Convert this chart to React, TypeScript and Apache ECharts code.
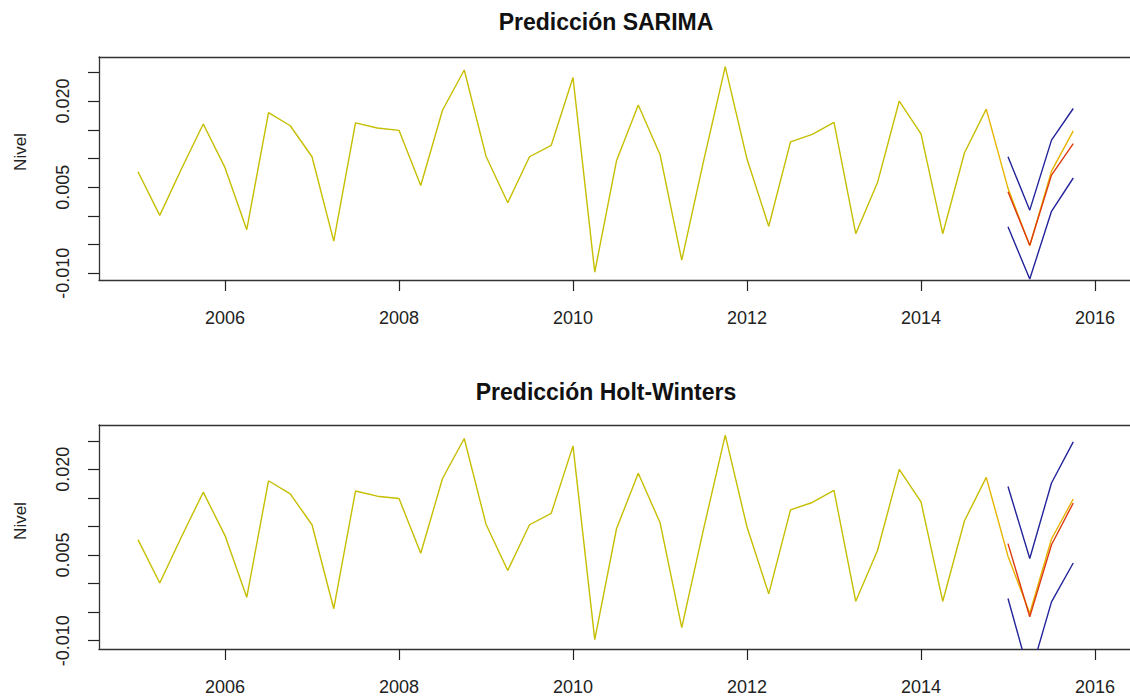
import React, { useEffect, useRef } from "react";
import * as echarts from "echarts";

// Quarterly series, 2005 Q1 .. 2014 Q4 (training data)
const START_YEAR = 2005;
const observed = [
  0.0077, 0.0001, 0.0082, 0.016, 0.0084, -0.0024, 0.018, 0.0157, 0.0103, -0.0044,
  0.0162, 0.0153, 0.0149, 0.0053, 0.0184, 0.0254, 0.0104, 0.0023, 0.0103, 0.0123,
  0.0241, -0.0098, 0.0096, 0.0193, 0.0107, -0.0077, 0.0095, 0.026, 0.0099, -0.0018,
  0.0129, 0.0142, 0.0163, -0.0031, 0.0058, 0.02, 0.0143, -0.0031, 0.011, 0.0186,
];
// 2015 Q1 .. Q4 (test data)
const testValues = [0.0048, -0.0052, 0.0078, 0.0148];

// SARIMA forecast
const sarimaMean = [0.0042, -0.0051, 0.0071, 0.0126];
const sarimaUpper = [0.0103, 0.001, 0.0132, 0.0187];
const sarimaLower = [-0.0019, -0.011, 0.0008, 0.0066];

// Holt-Winters forecast
const hwMean = [0.007, -0.0058, 0.0068, 0.0141];
const hwUpper = [0.017, 0.0044, 0.0176, 0.0248];
const hwLower = [-0.0026, -0.0163, -0.0032, 0.0036];

const xTickValues = [2006, 2008, 2010, 2012, 2014, 2016];
const yTickValues = [-0.01, -0.005, 0, 0.005, 0.01, 0.015, 0.02, 0.025];
const yLabelValues = [-0.01, 0.005, 0.02];

const titles = ["Predicción SARIMA", "Predicción Holt-Winters"];
const yName = "Nivel";

const FONT = "'Liberation Sans', Arial, sans-serif";

const toPairs = (vals: number[], startIndex: number) =>
  vals.map((v, i) => [START_YEAR + (startIndex + i) * 0.25, v]);

export default function App() {
  const ref = useRef<HTMLDivElement>(null);

  useEffect(() => {
    if (!ref.current) return;
    const chart = echarts.init(ref.current, null, { renderer: "svg" });

    const PX_PER_YEAR = 87;
    const LEFT = 99;
    const WIDTH = 1130 - LEFT;
    const X_MIN = 2006 - (225 - LEFT) / PX_PER_YEAR;
    const X_MAX = X_MIN + WIDTH / PX_PER_YEAR;

    const panels = [
      { top: 57, height: 223, min: -0.01116, max: 0.02767, mean: sarimaMean, up: sarimaUpper, lo: sarimaLower },
      { top: 425, height: 224, min: -0.01145, max: 0.02776, mean: hwMean, up: hwUpper, lo: hwLower },
    ];

    const grids = panels.map((p) => ({
      left: LEFT,
      top: p.top,
      width: WIDTH,
      height: p.height,
      show: false,
      containLabel: false,
    }));

    const boxLine = { show: true, onZero: false, lineStyle: { color: "#333", width: 1.3 } };

    const xAxesBottom = panels.map((_, i) => ({
      type: "value",
      gridIndex: i,
      position: "bottom",
      min: X_MIN,
      max: X_MAX,
      axisLine: boxLine,
      axisTick: {
        show: true,
        length: 11,
        customValues: xTickValues,
        lineStyle: { color: "#222", width: 1.2 },
      },
      axisLabel: {
        show: true,
        customValues: xTickValues,
        margin: 29,
        fontSize: 18,
        color: "#222",
        fontFamily: FONT,
        formatter: (v: number) => String(Math.round(v)),
      },
      splitLine: { show: false },
    }));

    const xAxesTop = panels.map((_, i) => ({
      type: "value",
      gridIndex: i,
      position: "top",
      min: X_MIN,
      max: X_MAX,
      axisLine: boxLine,
      axisTick: { show: false },
      axisLabel: { show: false },
      splitLine: { show: false },
    }));

    const yAxes = panels.map((p, i) => ({
      type: "value",
      gridIndex: i,
      min: p.min,
      max: p.max,
      axisLine: boxLine,
      axisTick: {
        show: true,
        length: 11,
        customValues: yTickValues,
        lineStyle: { color: "#222", width: 1.2 },
      },
      axisLabel: {
        show: true,
        customValues: yLabelValues,
        rotate: 90,
        margin: 27,
        fontSize: 18,
        color: "#222",
        fontFamily: FONT,
        formatter: (v: number) => v.toFixed(3),
      },
      splitLine: { show: false },
    }));

    const line = (name: string, data: number[][], color: string, idx: number, z: number) => ({
      type: "line",
      name,
      xAxisIndex: idx,
      yAxisIndex: idx,
      data,
      showSymbol: false,
      symbol: "none",
      z,
      lineStyle: { color, width: 1.4 },
      silent: true,
    });

    const lastObs: number[][] = [[START_YEAR + (observed.length - 1) * 0.25, observed[observed.length - 1]]];
    const series: any[] = [];
    panels.forEach((p, i) => {
      series.push(line("observado", toPairs(observed, 0), "#c6be00", i, 2));
      series.push(line("test", lastObs.concat(toPairs(testValues, observed.length)), "#e8b400", i, 3));
      series.push(line("superior", toPairs(p.up, observed.length), "#23239c", i, 4));
      series.push(line("inferior", toPairs(p.lo, observed.length), "#23239c", i, 4));
      series.push(line("media", toPairs(p.mean, observed.length), "#dd3a10", i, 5));
    });

    chart.setOption({
      animation: false,
      backgroundColor: "#ffffff",
      grid: grids,
      xAxis: [...xAxesBottom, ...xAxesTop],
      yAxis: yAxes,
      series,
      graphic: [
        {
          type: "text",
          x: 606,
          y: 22,
          style: { text: titles[0], font: `bold 23px ${FONT}`, fill: "#111", textAlign: "center", textVerticalAlign: "middle" },
        },
        {
          type: "text",
          x: 606,
          y: 392,
          style: { text: titles[1], font: `bold 23px ${FONT}`, fill: "#111", textAlign: "center", textVerticalAlign: "middle" },
        },
        {
          type: "text",
          x: 20,
          y: 152,
          rotation: Math.PI / 2,
          style: { text: yName, font: `17px ${FONT}`, fill: "#222", textAlign: "center", textVerticalAlign: "middle" },
        },
        {
          type: "text",
          x: 20,
          y: 521,
          rotation: Math.PI / 2,
          style: { text: yName, font: `17px ${FONT}`, fill: "#222", textAlign: "center", textVerticalAlign: "middle" },
        },
      ],
    });

    return () => chart.dispose();
  }, []);

  return (
    <div
      ref={ref}
      style={{ position: "absolute", left: 0, top: 0, width: 1130, height: 698, background: "#fff" }}
    />
  );
}
